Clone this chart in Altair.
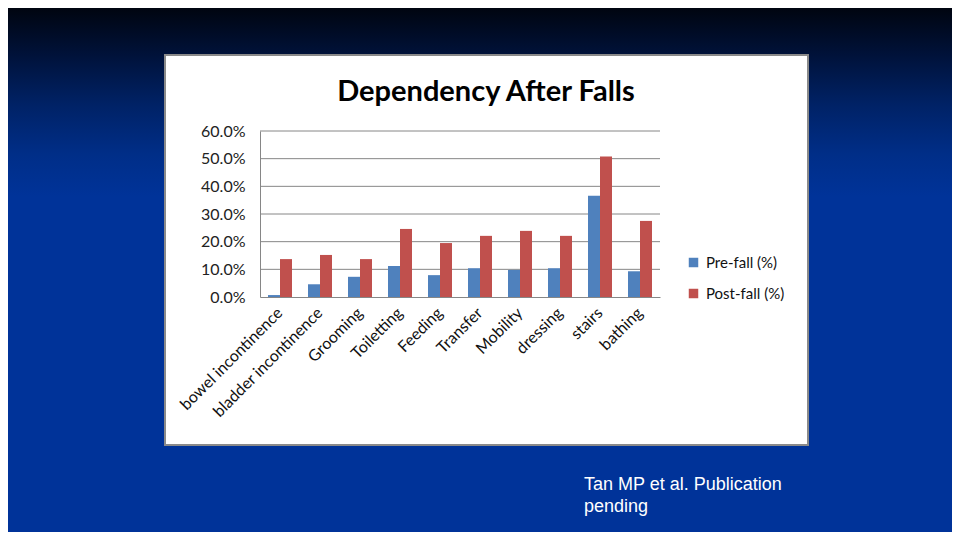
import altair as alt
import pandas as pd

categories = ["bowel incontinence", "bladder incontinence", "Grooming", "Toiletting",
              "Feeding", "Transfer", "Mobility", "dressing", "stairs", "bathing"]
pre_fall = [0.007, 0.046, 0.073, 0.112, 0.079, 0.104, 0.098, 0.104, 0.366, 0.093]
post_fall = [0.137, 0.152, 0.137, 0.246, 0.195, 0.221, 0.239, 0.221, 0.508, 0.275]
series = ["Pre-fall (%)", "Post-fall (%)"]
colors = ["#4F81BD", "#C0504D"]
y_ticks = [0.0, 0.1, 0.2, 0.3, 0.4, 0.5, 0.6]
title_text = "Dependency After Falls"
footnote = ["Tan MP et al. Publication", "pending"]

rows = []
for c, a, b in zip(categories, pre_fall, post_fall):
    rows.append({"cat": c, "series": series[0], "v": a})
    rows.append({"cat": c, "series": series[1], "v": b})
df = pd.DataFrame(rows)
grid_df = pd.DataFrame({"v": y_ticks[1:]})
one = pd.DataFrame({"a": [0]})

FONT = "Lato"
yscale = alt.Scale(domain=[0, 0.6], nice=False, zero=True)
yaxis = alt.Axis(title=None, values=y_ticks, format=".1%", grid=False,
                 labelFontSize=16, labelFont=FONT, labelColor="#222222",
                 ticks=False, labelPadding=15, domainColor="#868686", zindex=1)

bg = alt.Chart(one).mark_rect(
    color=alt.Gradient(
        gradient="linear",
        stops=[
            alt.GradientStop(color="#000510", offset=0),
            alt.GradientStop(color="#00123a", offset=0.09),
            alt.GradientStop(color="#002266", offset=0.185),
            alt.GradientStop(color="#002e88", offset=0.28),
            alt.GradientStop(color="#003399", offset=0.36),
            alt.GradientStop(color="#003399", offset=1),
        ],
        x1=0, x2=0, y1=0, y2=1,
    )
).encode(x=alt.value(-252), x2=alt.value(692), y=alt.value(-123), y2=alt.value(401))

box = alt.Chart(one).mark_rect(
    fill="white", stroke="#8a8a8a", strokeWidth=2
).encode(x=alt.value(-95), x2=alt.value(548), y=alt.value(-76), y2=alt.value(314))

grid = alt.Chart(grid_df).mark_rule(color="#868686", strokeWidth=1).encode(
    y=alt.Y("v:Q", scale=yscale, axis=yaxis),
    x=alt.value(0), x2=alt.value(400),
)

bars = alt.Chart(df).mark_bar().encode(
    x=alt.X("cat:N", sort=categories,
            scale=alt.Scale(paddingInner=0.4, paddingOuter=0.2),
            axis=alt.Axis(title=None, labelAngle=-45, labelFontSize=16, labelFont=FONT,
                          labelColor="#111111", ticks=False, labelPadding=13,
                          labelBaseline="middle",
                          domainColor="#868686", zindex=1, labelLimit=300)),
    xOffset=alt.XOffset("series:N", sort=series),
    y=alt.Y("v:Q", scale=yscale, axis=yaxis),
    color=alt.Color("series:N", sort=series,
                    scale=alt.Scale(domain=series, range=colors),
                    legend=alt.Legend(title=None, orient="none", legendX=426, legendY=124,
                                      symbolType="square", symbolSize=90,
                                      symbolStrokeWidth=0, labelFontSize=15, labelFont=FONT,
                                      labelColor="#111111", rowPadding=15, labelOffset=5)),
)

title = alt.Chart(one).mark_text(
    text=title_text, font=FONT, fontSize=29, fontWeight="bold", color="#000000",
    align="center", baseline="middle"
).encode(x=alt.value(226), y=alt.value(-39))

note = alt.Chart(one).mark_text(
    text=footnote, font="Liberation Sans", fontSize=18, color="white",
    align="left", baseline="top", lineHeight=22
).encode(x=alt.value(324), y=alt.value(345))

chart = alt.layer(bg, box, grid, bars, title, note).properties(
    width=400, height=166,
    padding={"left": 252, "top": 123, "right": 292, "bottom": 235},
    autosize=alt.AutoSizeParams(type="none"),
).configure_view(stroke=None)

chart.save("out.html", embed_options={"renderer": "svg", "actions": False})
